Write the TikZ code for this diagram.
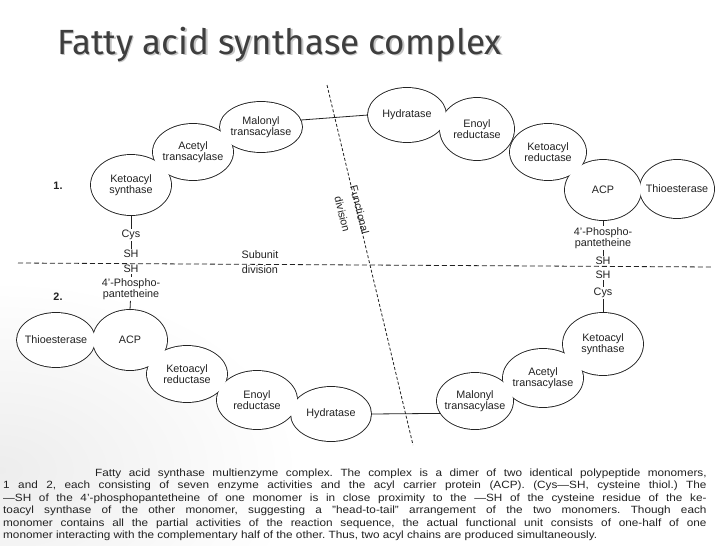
\documentclass[tikz,border=0pt]{standalone}
\usepackage{fontspec}
\setmainfont{Liberation Sans}
\newfontfamily\titlefont{Fira Sans}
\usepackage{tikz}
\usetikzlibrary{shapes.geometric}

\definecolor{titlegray}{RGB}{62,62,62}
\definecolor{inkgray}{RGB}{34,34,34}

\tikzset{
	enz/.style={ellipse, inner sep=-9pt, outer sep=0pt, align=center, text=inkgray,
		font=\fontsize{10.8}{10.8}\selectfont},
	tag/.style={inner sep=1.2pt, align=center, text=inkgray, font=\fontsize{10.8}{10.8}\selectfont},
	capline/.style={anchor=base west, inner sep=0pt, text=inkgray, font=\fontsize{10.5}{11}\selectfont},
	subunit/.style={inkgray, line width=0.8pt, dash pattern=on 5pt off 3pt},
	functional/.style={inkgray, line width=0.8pt, dash pattern=on 3pt off 2pt},
}

\def\enzymes{ks1/131/185/40/30/{Ketoacyl\\synthase}, at1/193/152/40/28/{Acetyl\\transacylase},
	mt1/261/127/41/25/{Malonyl\\transacylase}, hy1/407/115/39/27/{Hydratase},
	er1/477/129/37/31/{Enoyl\\reductase}, kr1/548/152/38/28/{Ketoacyl\\reductase},
	acp1/603/190/38/30/{ACP}, te1/677/189/37/29/{Thioesterase},
	te2/56/340/39/27/{Thioesterase}, acp2/130/340/37/30/{ACP},
	kr2/187/374/40/28/{Ketoacyl\\reductase}, er2/257/400/40/29/{Enoyl\\reductase},
	hy2/331/414/40/27/{Hydratase}, mt2/475/401/38/28/{Malonyl\\transacylase},
	at2/543/378/40/29/{Acetyl\\transacylase}, ks2/603/344/40/31/{Ketoacyl\\synthase}}

\newcommand{\capjust}[2]{\scalebox{1.12}[1]{\makebox[#1][s]{#2}}}
\frenchspacing

\begin{document}
\begin{tikzpicture}[x=1pt,y=-1pt]
	\useasboundingbox (0,0) rectangle (728,546);
	\fill[white] (0,0) rectangle (728,546);
	\shade[inner color=gray!14, outer color=white] (0,470) ellipse [x radius=300, y radius=190];
	\node[anchor=base west, inner sep=0pt, text=gray!45, font=\titlefont\fontsize{35}{38}\selectfont] (titleshadow) at (58.5,55.5) {Fatty acid synthase complex};
	\node[anchor=base west, inner sep=0pt, text=titlegray, font=\titlefont\fontsize{35}{38}\selectfont] (title) at (57,54) {Fatty acid synthase complex};
	\foreach \n/\x/\y/\rx/\ry/\txt in \enzymes
		\draw[line width=1.8pt, inkgray] (\x,\y) ellipse [x radius=\rx, y radius=\ry];
	\foreach \n/\x/\y/\rx/\ry/\txt in \enzymes
		\fill[white] (\x,\y) ellipse [x radius=\rx, y radius=\ry];
	\foreach \n/\x/\y/\rx/\ry/\txt in \enzymes
		\node[enz, minimum width={2*\rx pt}, minimum height={2*\ry pt}] (\n) at (\x,\y) {\txt};
	\coordinate (subL) at (18,263);
	\coordinate (subR) at (712,267);
	\coordinate (funT) at (327,85);
	\coordinate (funB) at (413,445);
	\draw[subunit] (subL) -- (subR);
	\draw[functional] (funT) -- (funB);
	\node[tag, font=\bfseries\fontsize{10.8}{10.8}\selectfont] (one) at (58,186) {1.};
	\node[tag, font=\bfseries\fontsize{10.8}{10.8}\selectfont] (two) at (58,297) {2.};
	\node[tag] (cys1) at (131,235) {Cys};
	\node[tag] (sh1a) at (131,254) {SH};
	\node[tag] (sh1b) at (131,269) {SH};
	\node[tag] (pp1) at (131,289) {4'-Phospho-\\pantetheine};
	\node[tag] (pp2) at (603,238) {4'-Phospho-\\pantetheine};
	\node[tag] (sh2a) at (603,261) {SH};
	\node[tag] (sh2b) at (603,275) {SH};
	\node[tag] (cys2) at (603,293) {Cys};
	\node[tag] (subdiv) at (260,262) {Subunit\\[4pt]division};
	\node[tag, rotate=-76] (fundiv) at (351,212) {Functional\\[7pt]division};
	\draw[inkgray, line width=0.8pt] (ks1.south) -- (cys1);
	\draw[inkgray, line width=0.8pt] (cys1) -- (sh1a);
	\draw[inkgray, line width=0.8pt] (sh1b) -- (pp1);
	\draw[inkgray, line width=0.8pt] (pp1) -- (acp2.north);
	\draw[inkgray, line width=0.8pt] (acp1.south) -- (pp2);
	\draw[inkgray, line width=0.8pt] (pp2) -- (sh2a);
	\draw[inkgray, line width=0.8pt] (sh2b) -- (cys2);
	\draw[inkgray, line width=0.8pt] (cys2) -- (ks2.north);
	\draw[inkgray, line width=0.8pt] (mt1.10) -- (hy1.west);
	\draw[inkgray, line width=0.8pt] (hy2.east) -- (mt2.200);
	\node[capline] (cap1) at (95,476) {\capjust{546pt}{Fatty acid synthase multienzyme complex. The complex is a dimer of two identical polypeptide monomers,}};
	\node[capline] (cap2) at (3,488.5) {\capjust{628pt}{1 and 2, each consisting of seven enzyme activities and the acyl carrier protein (ACP). (Cys---SH, cysteine thiol.) The}};
	\node[capline] (cap3) at (3,501) {\capjust{628pt}{---SH of the 4'-phosphopantetheine of one monomer is in close proximity to the ---SH of the cysteine residue of the ke-}};
	\node[capline] (cap4) at (3,513.5) {\capjust{628pt}{toacyl synthase of the other monomer, suggesting a "head-to-tail" arrangement of the two monomers. Though each}};
	\node[capline] (cap5) at (3,526) {\capjust{628pt}{monomer contains all the partial activities of the reaction sequence, the actual functional unit consists of one-half of one}};
	\node[capline] (cap6) at (3,538.5) {\scalebox{1.12}[1]{monomer interacting with the complementary half of the other. Thus, two acyl chains are produced simultaneously.}};
\end{tikzpicture}
\end{document}
